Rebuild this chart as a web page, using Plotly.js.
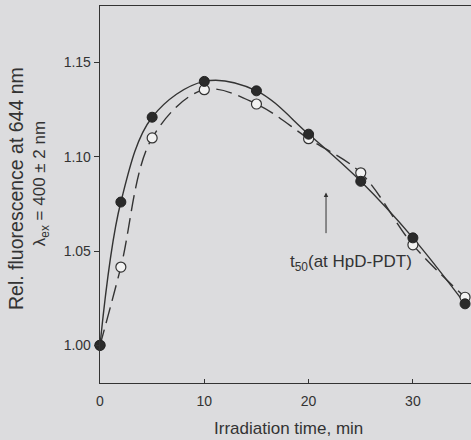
<!DOCTYPE html>
<html>
<head>
<meta charset="utf-8">
<script src="https://cdn.plot.ly/plotly-3.0.1.min.js"></script>
<style>html,body{margin:0;padding:0;background:#dcdcde;}#chart{width:471px;height:440px;}</style>
</head>
<body>
<div id="chart"></div>
<script>
// Irradiation time, min
const timeFilled = [0, 2, 5, 10, 15, 20, 25, 30, 35];
const fluorFilled = [1.000, 1.076, 1.121, 1.140, 1.135, 1.112, 1.087, 1.057, 1.022];
const timeOpen = [0, 2, 5, 10, 15, 20, 25, 30, 35];
const fluorOpen = [1.000, 1.0415, 1.110, 1.1356, 1.128, 1.1096, 1.0915, 1.0533, 1.0255];
const yTickVals = [1.00, 1.05, 1.10, 1.15];
const xTickVals = [0, 10, 20, 30];
const arrowX = 21.67, arrowTipY = 1.081, arrowTailY = 1.0587;

const ink = '#333333';
const font = '"Liberation Sans", Arial, sans-serif';

const traces = [
  {
    x: timeOpen, y: fluorOpen, type: 'scatter', mode: 'lines',
    line: {color: ink, width: 1.4, dash: '16px,7px', shape: 'spline', smoothing: 1.0},
    hoverinfo: 'skip', cliponaxis: false
  },
  {
    x: timeFilled, y: fluorFilled, type: 'scatter', mode: 'lines',
    line: {color: ink, width: 1.4, shape: 'spline', smoothing: 1.0},
    hoverinfo: 'skip', cliponaxis: false
  },
  {
    x: timeOpen, y: fluorOpen, type: 'scatter', mode: 'markers',
    marker: {symbol: 'circle', size: 10, color: '#f2f2f2', line: {color: ink, width: 1.2}},
    cliponaxis: false
  },
  {
    x: timeFilled, y: fluorFilled, type: 'scatter', mode: 'markers',
    marker: {symbol: 'circle', size: 10, color: '#2a2a2a', line: {color: '#222', width: 1}},
    cliponaxis: false
  }
];

const layout = {
  width: 471, height: 440,
  margin: {l: 100, r: 0, t: 6, b: 57},
  paper_bgcolor: '#dcdcde', plot_bgcolor: '#dcdcde',
  showlegend: false,
  font: {family: font, color: ink, size: 14},
  xaxis: {
    range: [0, 35.57], showgrid: false, zeroline: false,
    showline: true, linecolor: ink, linewidth: 1.3, mirror: true,
    ticks: 'inside', ticklen: 4, tickcolor: ink, tickvals: xTickVals,
    ticktext: xTickVals.map(String),
    tickfont: {size: 14, family: font, color: ink}, ticklabelstandoff: 5
  },
  yaxis: {
    range: [0.98, 1.18], showgrid: false, zeroline: false,
    showline: true, linecolor: ink, linewidth: 1.3,
    ticks: 'outside', ticklen: 5, tickcolor: ink, tickvals: yTickVals,
    ticktext: yTickVals.map(v => v.toFixed(2)),
    tickfont: {size: 14, family: font, color: ink}
  },
  annotations: [
    {xref: 'paper', yref: 'paper', x: -0.225, y: 0.516, xanchor: 'center', yanchor: 'middle',
     textangle: -90, showarrow: false, text: 'Rel. fluorescence at 644 nm',
     font: {size: 19.5, family: font, color: ink}},
    {xref: 'paper', yref: 'paper', x: -0.160, y: 0.529, xanchor: 'center', yanchor: 'middle',
     textangle: -90, showarrow: false, text: 'λ<sub>ex</sub> = 400 ± 2 nm',
     font: {size: 17, family: font, color: ink}},
    {xref: 'paper', yref: 'paper', x: 0.507, y: -0.122, xanchor: 'center', yanchor: 'middle',
     showarrow: false, text: 'Irradiation time, min',
     font: {size: 17, family: font, color: ink}},
    {x: 24.07, y: 1.0435, xref: 'x', yref: 'y', showarrow: false,
     text: 't<sub>50</sub>(at HpD-PDT)', font: {size: 17, family: font, color: ink}},
    {x: arrowX, y: arrowTipY, ax: arrowX, ay: arrowTailY, xref: 'x', yref: 'y', axref: 'x', ayref: 'y',
     text: '', showarrow: true, arrowhead: 2, arrowsize: 0.9, arrowwidth: 1, arrowcolor: ink}
  ]
};

Plotly.newPlot('chart', traces, layout, {displayModeBar: false, staticPlot: true});
</script>
</body>
</html>
